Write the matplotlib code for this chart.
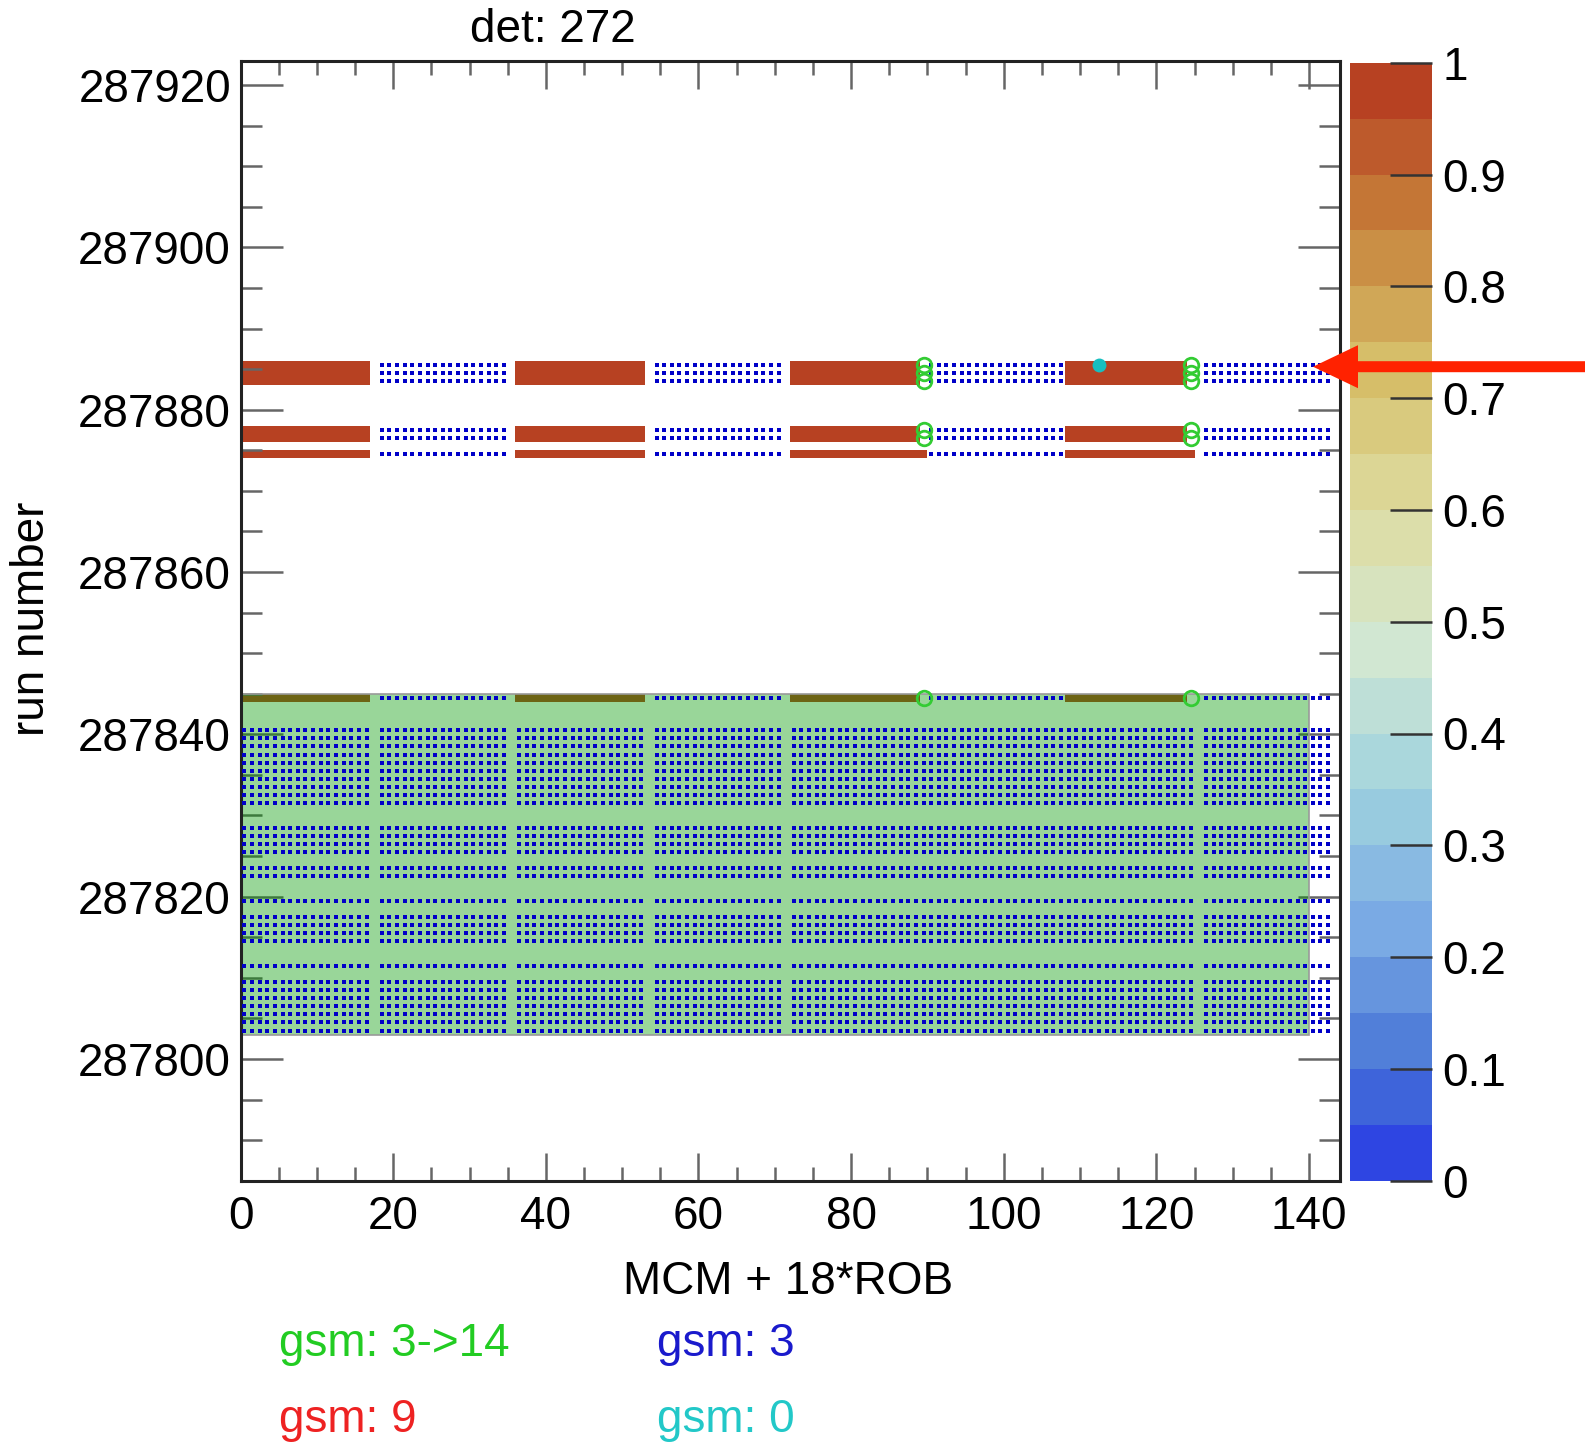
import numpy as np
import matplotlib
matplotlib.use('Agg')
from matplotlib import pyplot as plt
import matplotlib.ticker as plticker
from matplotlib.colors import LinearSegmentedColormap, ListedColormap, BoundaryNorm
from matplotlib.patches import Rectangle, FancyArrow

plt.rcParams['font.family'] = ['Liberation Sans', 'DejaVu Sans']

# ---- data ----
run_first, run_last = 287785, 287922
n_bins_x = 144          # MCM + 18*ROB

# runs with filled cells (value 1) and the filled bin ranges (first, last)
red_runs = [287885, 287884, 287883, 287877, 287876, 287874, 287844]
red_value = 1.0
red_segments_default = [(0, 16), (36, 52), (72, 88), (108, 123)]
red_segments = {287874: [(0, 16), (36, 52), (72, 89), (108, 124)]}

# gsm: 3 markers
gsm3_odd_segments = [(18, 34), (54, 70), (90, 107), (126, 142)]
gsm3_all_segments = [(0, 16), (18, 34), (36, 52), (54, 70), (72, 89), (90, 107), (108, 124), (126, 142)]
gsm3_dense_runs = [287840, 287839, 287838, 287837, 287836, 287835, 287834, 287833,
                   287832, 287831, 287828, 287827, 287826, 287825, 287823, 287822,
                   287819, 287817, 287816, 287815, 287814, 287811, 287809, 287808,
                   287807, 287806, 287805, 287804, 287803]

# gsm: 3->14 markers
gsm314_runs = [287885, 287884, 287883, 287877, 287876, 287844]
gsm314_bins = [89, 124]

# gsm: 0 markers
gsm0_runs = [287885]
gsm0_bins = [112]

# green band
band_bins = (0, 140)
band_runs = (287803, 287844)

cbar_ticks = [0, 0.1, 0.2, 0.3, 0.4, 0.5, 0.6, 0.7, 0.8, 0.9, 1.0]
cbar_labels = ['0', '0.1', '0.2', '0.3', '0.4', '0.5', '0.6', '0.7', '0.8', '0.9', '1']

legend_items = [('gsm: 3->14', '#22cc22'), ('gsm: 3', '#1a1acc'),
                ('gsm: 9', '#ee2222'), ('gsm: 0', '#22c8c8')]

# ROOT kLightTemperature palette, 20 contours
stops_r = [31, 71, 123, 160, 210, 222, 214, 199, 183]
stops_g = [40, 117, 171, 211, 231, 220, 190, 132, 65]
stops_b = [234, 214, 228, 222, 210, 160, 105, 60, 34]
base = LinearSegmentedColormap.from_list(
    'lt', [(r / 255, g / 255, b / 255) for r, g, b in zip(stops_r, stops_g, stops_b)])
ncont = 20
cmap = ListedColormap([base(min((i + 0.99) / ncont, 1.0)) for i in range(ncont)])
norm = BoundaryNorm(np.linspace(0, 1, ncont + 1), ncont)

W, H = 1585, 1445
fig = plt.figure(figsize=(W / 100, H / 100), dpi=100)
ax = fig.add_axes([240.6 / W, 1 - 1180.7 / H, 1098.9 / W, 1120 / H])
cax = fig.add_axes([1349.5 / W, 1 - 1180.7 / H, 82.9 / W, 1118 / H])

xedges = np.arange(0, n_bins_x + 1)
yedges = np.arange(run_first, run_last + 2)
Z = np.full((len(yedges) - 1, n_bins_x), np.nan)
for r in red_runs:
    for a, b in red_segments.get(r, red_segments_default):
        Z[r - run_first, a:b + 1] = red_value
mesh = ax.pcolormesh(xedges, yedges, np.ma.masked_invalid(Z), cmap=cmap, norm=norm, zorder=1)

ax.add_patch(Rectangle((band_bins[0], band_runs[0]), band_bins[1] - band_bins[0],
                       band_runs[1] + 1 - band_runs[0], facecolor=(0, 0.6, 0, 0.4),
                       edgecolor='#999999', lw=1.2, zorder=2))

# markers
def seg_points(runs, segments):
    xs, ys = [], []
    for r in runs:
        for a, b in segments:
            for m in range(a, b + 1):
                xs.append(m + 0.5)
                ys.append(r + 0.5)
    return xs, ys

x1, y1 = seg_points(red_runs, gsm3_odd_segments)
x2, y2 = seg_points(gsm3_dense_runs, gsm3_all_segments)
ax.plot(x1 + x2, y1 + y2, ls='none', marker='s', ms=3.4, mew=0, color='#0000c8', zorder=3)

cx = [b + 0.5 for r in gsm314_runs for b in gsm314_bins]
cy = [r + 0.5 for r in gsm314_runs for b in gsm314_bins]
ax.plot(cx, cy, ls='none', marker='o', ms=10.5, mfc='none', mew=2.0, color='#33cc33', zorder=4)

zx = [b + 0.5 for r in gsm0_runs for b in gsm0_bins]
zy = [r + 0.5 for r in gsm0_runs for b in gsm0_bins]
ax.plot(zx, zy, ls='none', marker='o', ms=10, mew=0, color='#18bfc0', zorder=5)

ax.set_xlim(0, n_bins_x)
ax.set_ylim(run_first, run_last + 1)
ax.xaxis.set_major_locator(plticker.MultipleLocator(20))
ax.xaxis.set_minor_locator(plticker.MultipleLocator(5))
ax.yaxis.set_major_locator(plticker.MultipleLocator(20))
ax.yaxis.set_minor_locator(plticker.MultipleLocator(5))
ax.yaxis.set_major_formatter(plticker.FormatStrFormatter('%d'))
ax.tick_params(which='both', direction='in', top=True, right=True, color='#666666',
               width=1.8, labelsize=33)
ax.tick_params(axis='y', which='major', length=30, pad=7)
ax.tick_params(axis='y', which='minor', length=15)
ax.tick_params(axis='x', which='major', length=20, pad=10)
ax.tick_params(axis='x', which='minor', length=10)
for s in ax.spines.values():
    s.set_linewidth(2.2)
    s.set_color('#222222')

cb = fig.colorbar(mesh, cax=cax, ticks=cbar_ticks)
cb.outline.set_visible(False)
cb.set_ticklabels(cbar_labels)
cax.minorticks_off()
cax.tick_params(direction='in', length=30, width=1.8, color='#333333', labelsize=33, pad=7)

fig.text(553 / W, 1 - 30 / H, 'det: 272', ha='center', va='center', fontsize=33)
fig.text(32 / W, 1 - 619 / H, 'run number', rotation=90, ha='center', va='center', fontsize=33)
fig.text(788 / W, 1 - 1282 / H, 'MCM + 18*ROB', ha='center', va='center', fontsize=33)
legend_pos = [(279, 1344), (657, 1344), (279, 1420), (657, 1420)]
for (txt, col), (px, py) in zip(legend_items, legend_pos):
    fig.text(px / W, 1 - py / H, txt, color=col, ha='left', va='center', fontsize=33)

# arrow pointing at the run
fig.patches.append(FancyArrow(1.0, 1 - 366.7 / H, -(W - 1313) / W, 0, width=11 / H,
                              head_width=43 / H, head_length=45 / W, length_includes_head=True,
                              color='#ff2200', lw=0, transform=fig.transFigure, figure=fig))

fig.savefig('out.png', dpi=100)
